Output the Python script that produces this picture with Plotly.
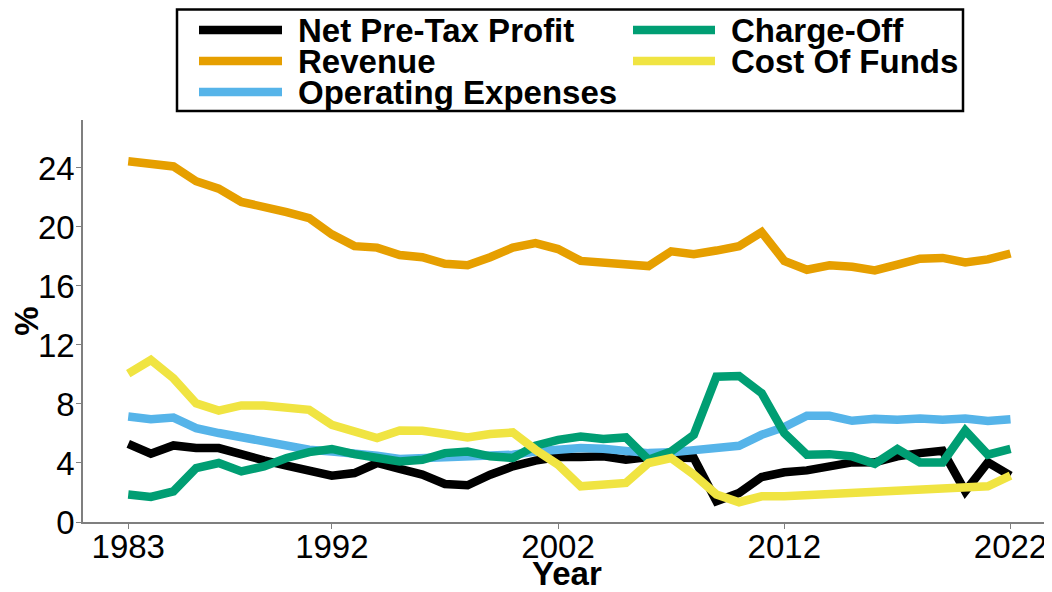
import plotly.graph_objects as go

years = list(range(1983, 2023))

net_pretax_profit = [5.3, 4.63, 5.19, 5.01, 5.01, 4.56, 4.18, 3.82, 3.5, 3.14,
                     3.32, 4.0, 3.6, 3.21, 2.58, 2.49, 3.21, 3.77, 4.16, 4.4,
                     4.4, 4.45, 4.22, 4.4, 4.38, 4.34, 1.41, 1.97, 3.05, 3.37,
                     3.5, 3.77, 4.04, 4.05, 4.45, 4.67, 4.83, 2.08, 4.04, 3.14]
revenue = [24.45, 24.3, 24.1, 23.1, 22.6, 21.7, 21.4, 21.0, 20.6, 19.5,
           18.7, 18.6, 18.1, 17.95, 17.5, 17.4, 17.95, 18.6, 18.9, 18.5,
           17.7, 17.55, 17.45, 17.35, 18.35, 18.15, 18.4, 18.7, 19.65, 17.7,
           17.1, 17.4, 17.3, 17.05, 17.45, 17.85, 17.9, 17.6, 17.8, 18.2]
operating_expenses = [7.15, 6.97, 7.08, 6.36, 6.03, 5.76, 5.57, 5.17, 4.9, 4.78,
                      4.67, 4.49, 4.27, 4.34, 4.4, 4.49, 4.49, 4.56, 4.78, 4.9,
                      5.01, 4.97, 4.78, 4.67, 4.72, 4.9, 5.12, 5.17, 5.91, 6.43,
                      7.2, 7.2, 6.86, 6.99, 6.93, 7.01, 6.93, 7.01, 6.84, 6.97]
charge_off = [1.86, 1.7, 2.08, 3.66, 4.0, 3.43, 3.77, 4.34, 4.74, 4.95,
              4.6, 4.34, 4.11, 4.22, 4.67, 4.78, 4.45, 4.34, 5.17, 5.57,
              5.8, 5.62, 5.73, 4.22, 4.78, 5.91, 9.85, 9.9, 8.73, 6.03,
              4.56, 4.6, 4.45, 3.95, 4.95, 4.04, 4.04, 6.2, 4.56, 4.95]
cost_of_funds = [10.05, 10.98, 9.74, 8.05, 7.55, 7.9, 7.9, 7.82, 7.6, 6.59,
                 6.07, 5.69, 6.2, 6.18, 5.96, 5.73, 5.96, 6.07, 4.9, 3.89,
                 2.42, 2.49, 2.65, 4.0, 4.34, 3.21, 1.86, 1.34, 1.74, 1.74,
                 1.81, 1.9, 1.97, 2.01, 2.13, 2.22, 2.33, 2.35, 2.42, 3.14]

series_names = ["Net Pre-Tax Profit", "Revenue", "Operating Expenses",
                "Charge-Off", "Cost Of Funds"]
series_values = [net_pretax_profit, revenue, operating_expenses,
                 charge_off, cost_of_funds]
colors = ["#000000", "#E69F00", "#56B4E9", "#009E73", "#F0E442"]

x_ticks = [1983, 1992, 2002, 2012, 2022]
y_ticks = [0, 4, 8, 12, 16, 20, 24]
x_title = "Year"
y_title = "%"

FONT = "Liberation Sans, Arial, sans-serif"
FS = 33
W, H = 1052, 592
ML, MR, MT, MB = 75, 2, 112, 78
PW, PH = W - ML - MR, H - MT - MB


def px_to_paper(px, py):
    return (px - ML) / PW, (H - MB - py) / PH


fig = go.Figure()
for name, vals, col in zip(series_names, series_values, colors):
    fig.add_trace(go.Scatter(x=years, y=vals, mode="lines", name=name,
                             line=dict(color=col, width=8.5), showlegend=False))

# manual legend (tight rows like the reference)
shapes = []
annotations = []
x0, y0 = px_to_paper(169, 1.5)
x1, y1 = px_to_paper(955, 103)
shapes.append(dict(type="rect", xref="paper", yref="paper", x0=x0, x1=x1,
                   y0=y1, y1=y0, line=dict(color="black", width=2.5),
                   fillcolor="white", layer="above"))
col_sample_x = [(191, 274), (625, 707)]
col_text_x = [288, 721]
row_y = [22, 53, 84]
for i, (name, col) in enumerate(zip(series_names, colors)):
    c = 0 if i < 3 else 1
    r = i if i < 3 else i - 3
    sx0, sy = px_to_paper(col_sample_x[c][0], row_y[r])
    sx1, _ = px_to_paper(col_sample_x[c][1], row_y[r])
    shapes.append(dict(type="line", xref="paper", yref="paper", x0=sx0, x1=sx1,
                       y0=sy, y1=sy, line=dict(color=col, width=8.5), layer="above"))
    tx, ty = px_to_paper(col_text_x[c], row_y[r])
    annotations.append(dict(text=name, xref="paper", yref="paper", x=tx, y=ty,
                            xanchor="left", yanchor="middle", showarrow=False,
                            font=dict(family=FONT, size=FS, color="black",
                                      weight="bold")))

# x-axis title placed just below the tick labels
xt, yt = px_to_paper(559, 565)
annotations.append(dict(text=x_title, xref="paper", yref="paper", x=xt, y=yt,
                        xanchor="center", yanchor="middle", showarrow=False,
                        font=dict(family=FONT, size=FS, color="black",
                                  weight="bold")))

fig.update_layout(
    width=W, height=H,
    margin=dict(l=ML, r=MR, t=MT, b=MB),
    paper_bgcolor="white", plot_bgcolor="white",
    font=dict(family=FONT, color="black"),
    shapes=shapes, annotations=annotations,
    xaxis=dict(range=[1981.0, 2024.1], tickvals=x_ticks,
               ticktext=[str(v) for v in x_ticks],
               showgrid=False, zeroline=False, showline=True,
               linecolor="#7f7f7f", linewidth=1.5,
               ticks="outside", ticklen=5, tickcolor="#7f7f7f", tickwidth=1.2,
               ticklabelstandoff=-10,
               tickfont=dict(family=FONT, size=FS, color="black"),
               automargin=False),
    yaxis=dict(range=[0, 27.25], tickvals=y_ticks,
               showgrid=False, zeroline=False, showline=True,
               linecolor="#7f7f7f", linewidth=1.5,
               ticks="outside", ticklen=5, tickcolor="#7f7f7f", tickwidth=1.2,
               ticklabelstandoff=-5,
               tickfont=dict(family=FONT, size=FS, color="black"),
               title=dict(text=y_title, standoff=3,
                          font=dict(family=FONT, size=FS, color="black",
                                    weight="bold")),
               automargin=False),
)

fig.write_html("out.html")
